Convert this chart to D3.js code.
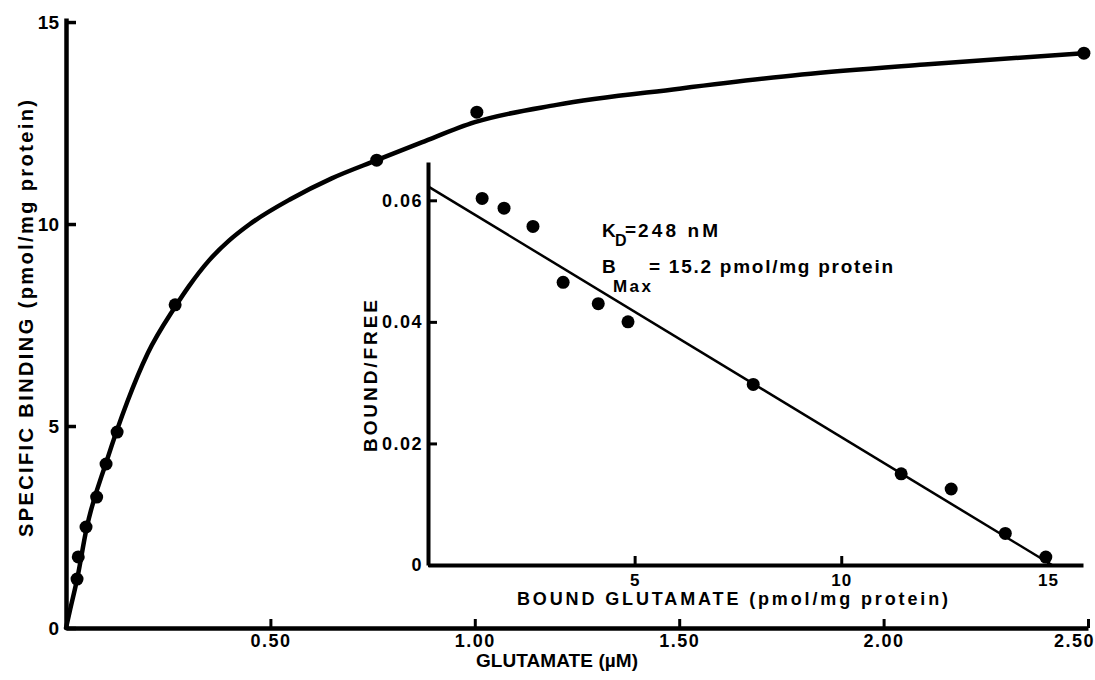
<!DOCTYPE html>
<html>
<head>
<meta charset="utf-8">
<script src="https://cdn.jsdelivr.net/npm/d3@7"></script>
<style>
    body { margin: 0; background: #fff; }
    svg { display: block; font-family: "Liberation Sans", Arial, sans-serif; font-weight: bold; }
    .axis path, .axis line { stroke: #000; }
    .axis text { fill: #000; font-family: "Liberation Sans", Arial, sans-serif; font-weight: bold; }
</style>
</head>
<body>
<svg id="chart" width="1095" height="680"></svg>
<script>
// 飽和結合データ (main plot)
const glutamateConc = [0.027, 0.030, 0.049, 0.075, 0.098, 0.125, 0.267, 0.760, 1.005, 2.490];
const specificBinding = [1.21, 1.76, 2.50, 3.24, 4.06, 4.85, 8.00, 11.58, 12.77, 14.23];

// 手描きの曲線
const curveConc = [0, 0.010, 0.027, 0.050, 0.100, 0.150, 0.200, 0.267, 0.300, 0.350, 0.400, 0.450, 0.550, 0.650, 0.760, 0.870, 1.000, 1.200, 1.500, 1.800, 2.100, 2.490];
const curveBinding = [0, 0.45, 1.20, 2.45, 4.15, 5.60, 6.80, 7.95, 8.45, 9.10, 9.60, 10.00, 10.62, 11.13, 11.58, 12.02, 12.52, 12.95, 13.35, 13.70, 13.95, 14.23];

// Scatchard inset
const boundGlutamate = [1.31, 1.84, 2.54, 3.27, 4.12, 4.84, 7.87, 11.45, 12.66, 13.97, 14.95];
const boundFree = [0.0603, 0.0587, 0.0557, 0.0465, 0.0430, 0.0400, 0.0297, 0.0150, 0.0125, 0.0052, 0.0013];
const fitBound = [0, 15.1];
const fitRatio = [0.0623, 0];

// 目盛り
const mainXTicks = [0.5, 1.0, 1.5, 2.0, 2.5];
const mainYTicks = [0, 5, 10, 15];
const insetXTicks = [5, 10, 15];
const insetYTicks = [0, 0.02, 0.04, 0.06];

const svg = d3.select('#chart');

const x = d3.scaleLinear().domain([0, 2.5]).range([66, 1088]);
const y = d3.scaleLinear().domain([0, 15.1]).range([628, 18]);
const ix = d3.scaleLinear().domain([0, 15.85]).range([428, 1083]);
const iy = d3.scaleLinear().domain([0, 0.0663]).range([565, 162]);

// main axes
const xAxis = svg.append('g')
    .attr('class', 'axis')
    .attr('transform', 'translate(0,628)')
    .call(d3.axisBottom(x)
        .tickValues(mainXTicks)
        .tickSize(-9)
        .tickSizeOuter(0)
        .tickPadding(6)
        .tickFormat(d3.format('.2f')));
xAxis.select('.domain').attr('stroke-width', 4.5);
xAxis.selectAll('.tick line').attr('stroke-width', 3);
xAxis.selectAll('.tick text')
    .style('font-size', '18px')
    .style('letter-spacing', '1.5px')
    .attr('dx', d => d === 2.5 ? -14 : 0);

const yAxis = svg.append('g')
    .attr('class', 'axis')
    .attr('transform', 'translate(66,0)')
    .call(d3.axisLeft(y)
        .tickValues(mainYTicks)
        .tickSize(-10)
        .tickSizeOuter(0)
        .tickPadding(7)
        .tickFormat(d3.format('d')));
yAxis.select('.domain').attr('stroke-width', 4.5);
yAxis.selectAll('.tick line').attr('stroke-width', 3.5);
yAxis.selectAll('.tick text').style('font-size', '19px');

// saturation curve
const curveLine = d3.line()
    .x((d, i) => x(curveConc[i]))
    .y((d, i) => y(curveBinding[i]))
    .curve(d3.curveMonotoneX);

svg.append('path')
    .datum(curveConc)
    .attr('d', curveLine)
    .attr('fill', 'none')
    .attr('stroke', '#000')
    .attr('stroke-width', 4.5)
    .attr('stroke-linecap', 'round');

svg.append('g')
    .selectAll('circle')
    .data(glutamateConc)
    .enter()
    .append('circle')
    .attr('cx', d => x(d))
    .attr('cy', (d, i) => y(specificBinding[i]))
    .attr('r', 6.5)
    .attr('fill', '#000');

// inset axes
const ixAxis = svg.append('g')
    .attr('class', 'axis')
    .attr('transform', 'translate(0,565)')
    .call(d3.axisBottom(ix)
        .tickValues(insetXTicks)
        .tickSize(-9)
        .tickSizeOuter(0)
        .tickPadding(9)
        .tickFormat(d3.format('d')));
ixAxis.select('.domain').attr('stroke-width', 4);
ixAxis.selectAll('.tick line').attr('stroke-width', 3);
ixAxis.selectAll('.tick text')
    .style('font-size', '17px')
    .style('letter-spacing', '1px');

const iyAxis = svg.append('g')
    .attr('class', 'axis')
    .attr('transform', 'translate(428,0)')
    .call(d3.axisLeft(iy)
        .tickValues(insetYTicks)
        .tickSize(-9)
        .tickSizeOuter(0)
        .tickPadding(5)
        .tickFormat(d => d === 0 ? '0' : d3.format('.2f')(d)));
iyAxis.select('.domain').attr('stroke-width', 4);
iyAxis.selectAll('.tick line').attr('stroke-width', 3);
iyAxis.selectAll('.tick text')
    .style('font-size', '18px')
    .style('letter-spacing', '1.5px');

// Scatchard fit line
svg.append('line')
    .attr('x1', ix(fitBound[0]))
    .attr('y1', iy(fitRatio[0]))
    .attr('x2', ix(fitBound[1]))
    .attr('y2', iy(fitRatio[1]))
    .attr('stroke', '#000')
    .attr('stroke-width', 2.5);

svg.append('g')
    .selectAll('circle')
    .data(boundGlutamate)
    .enter()
    .append('circle')
    .attr('cx', d => ix(d))
    .attr('cy', (d, i) => iy(boundFree[i]))
    .attr('r', 6.5)
    .attr('fill', '#000');

// axis titles
function label(x0, y0, len, size, str, rotate) {
    const t = svg.append('text')
        .attr('textLength', len)
        .attr('lengthAdjust', 'spacing')
        .style('font-size', size + 'px')
        .text(str);
    if (rotate) {
        t.attr('transform', `translate(${x0},${y0}) rotate(-90)`);
    } else {
        t.attr('x', x0).attr('y', y0);
    }
    return t;
}

label(476, 667, 162, 19, 'GLUTAMATE (µM)');
label(33, 537, 437, 20, 'SPECIFIC BINDING (pmol/mg protein)', true);
label(517, 605, 431, 18, 'BOUND GLUTAMATE (pmol/mg protein)');
label(377, 452, 152, 19, 'BOUND/FREE', true);

// K_D と B_Max
label(602, 237, 13, 19, 'K');
label(615, 246, 11, 16, 'D');
label(625, 236, 10, 19, '=');
label(638, 237, 80, 19, '248 nM');

label(602, 273, 12, 19, 'B');
label(613, 292, 38, 17, 'Max');
label(649, 273, 244, 19, '= 15.2 pmol/mg protein');
</script>
</body>
</html>
